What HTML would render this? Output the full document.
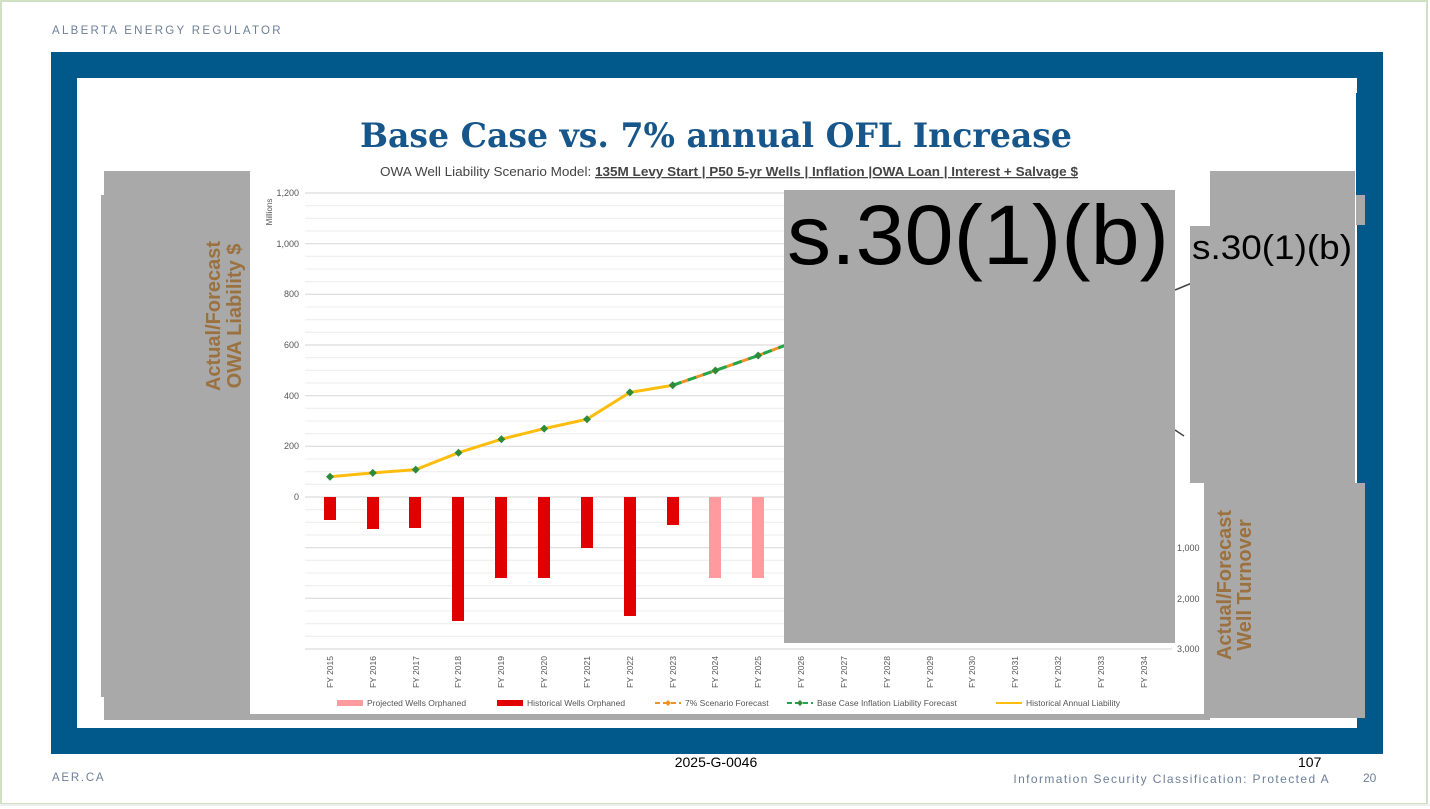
<!DOCTYPE html>
<html><head><meta charset="utf-8"><style>
html,body{margin:0;padding:0;background:#fff;}
svg{display:block;}
</style></head><body>
<svg width="1430" height="809" viewBox="0 0 1430 809" xmlns="http://www.w3.org/2000/svg" font-family="Liberation Sans, sans-serif">
<rect x="0" y="0" width="1430" height="809" fill="#fff"/>
<rect x="1" y="1" width="1426" height="803" fill="none" stroke="#cfe0c4" stroke-width="2"/>
<text x="52" y="34" font-size="11.5" fill="#6d7f98" letter-spacing="2.4" textLength="231">ALBERTA ENERGY REGULATOR</text>
<!-- blue frame -->
<rect x="51" y="52" width="1332" height="702" fill="#01588b"/>
<rect x="77" y="78" width="1280" height="650" fill="#fff"/>
<!-- left gray boxes -->
<rect x="104" y="171" width="146" height="549" fill="#a9a9a9"/>
<rect x="101" y="195" width="10" height="502" fill="#a9a9a9"/>
<text transform="translate(220,316) rotate(-90)" text-anchor="middle" font-size="20" font-weight="bold" fill="#9b713f">Actual/Forecast</text>
<text transform="translate(241,316) rotate(-90)" text-anchor="middle" font-size="20" font-weight="bold" fill="#9b713f">OWA Liability $</text>
<rect x="250" y="714" width="960" height="6" fill="#a9a9a9"/>
<!-- title -->
<text x="360" y="147" font-family="DejaVu Serif, Liberation Serif, serif" font-size="34" font-weight="bold" fill="#17568a" textLength="712" lengthAdjust="spacingAndGlyphs">Base Case vs. 7% annual OFL Increase</text>
<text x="380" y="176" font-size="12.5" fill="#444" textLength="698" lengthAdjust="spacingAndGlyphs">OWA Well Liability Scenario Model: <tspan font-weight="bold" text-decoration="underline">135M Levy Start | P50 5-yr Wells | Inflation |OWA Loan | Interest + Salvage $</tspan></text>
<!-- gridlines -->
<g stroke="#ececec" stroke-width="1">
<line x1="305" x2="1172" y1="205.7" y2="205.7"/><line x1="305" x2="1172" y1="218.3" y2="218.3"/><line x1="305" x2="1172" y1="231" y2="231"/>
<line x1="305" x2="1172" y1="256.3" y2="256.3"/><line x1="305" x2="1172" y1="269" y2="269"/><line x1="305" x2="1172" y1="281.7" y2="281.7"/>
<line x1="305" x2="1172" y1="307" y2="307"/><line x1="305" x2="1172" y1="319.7" y2="319.7"/><line x1="305" x2="1172" y1="332.3" y2="332.3"/>
<line x1="305" x2="1172" y1="357.7" y2="357.7"/><line x1="305" x2="1172" y1="370.3" y2="370.3"/><line x1="305" x2="1172" y1="383" y2="383"/>
<line x1="305" x2="1172" y1="408.3" y2="408.3"/><line x1="305" x2="1172" y1="421" y2="421"/><line x1="305" x2="1172" y1="433.7" y2="433.7"/>
<line x1="305" x2="1172" y1="459" y2="459"/><line x1="305" x2="1172" y1="471.7" y2="471.7"/><line x1="305" x2="1172" y1="484.3" y2="484.3"/>
<line x1="305" x2="1172" y1="509.7" y2="509.7"/><line x1="305" x2="1172" y1="522.3" y2="522.3"/><line x1="305" x2="1172" y1="535" y2="535"/>
<line x1="305" x2="1172" y1="560.3" y2="560.3"/><line x1="305" x2="1172" y1="573" y2="573"/><line x1="305" x2="1172" y1="585.7" y2="585.7"/>
<line x1="305" x2="1172" y1="611" y2="611"/><line x1="305" x2="1172" y1="623.7" y2="623.7"/><line x1="305" x2="1172" y1="636.3" y2="636.3"/>
</g>
<g stroke="#dcdcdc" stroke-width="1.2">
<line x1="305" x2="1172" y1="193" y2="193"/><line x1="305" x2="1172" y1="243.7" y2="243.7"/><line x1="305" x2="1172" y1="294.3" y2="294.3"/>
<line x1="305" x2="1172" y1="345" y2="345"/><line x1="305" x2="1172" y1="395.7" y2="395.7"/><line x1="305" x2="1172" y1="446.3" y2="446.3"/>
<line x1="305" x2="1172" y1="497" y2="497"/><line x1="305" x2="1172" y1="547.7" y2="547.7"/><line x1="305" x2="1172" y1="598.3" y2="598.3"/><line x1="305" x2="1172" y1="649" y2="649"/>
</g>
<g font-size="9" fill="#555" text-anchor="end">
<text x="299" y="196">1,200</text><text x="299" y="247">1,000</text><text x="299" y="297">800</text><text x="299" y="348">600</text><text x="299" y="399">400</text><text x="299" y="449">200</text><text x="299" y="500">0</text>
</g>
<text transform="translate(272,212) rotate(-90)" font-size="8" fill="#555" text-anchor="middle">Millions</text>
<g font-size="9" fill="#555"><text x="1177" y="551">1,000</text><text x="1177" y="602">2,000</text><text x="1177" y="652">3,000</text></g>
<!-- bars -->
<g fill="#e00000">
<rect x="324" y="497" width="12" height="23"/><rect x="367" y="497" width="12" height="32"/><rect x="409" y="497" width="12" height="31"/>
<rect x="452" y="497" width="12" height="124"/><rect x="495" y="497" width="12" height="81"/><rect x="538" y="497" width="12" height="81"/>
<rect x="581" y="497" width="12" height="51"/><rect x="624" y="497" width="12" height="119"/><rect x="667" y="497" width="12" height="28"/>
</g>
<g fill="#ff9a9e"><rect x="709" y="497" width="12" height="81"/><rect x="752" y="497" width="12" height="81"/></g>
<!-- lines -->
<polyline points="330,476.7 372.8,472.9 415.7,469.6 458.5,452.7 501.4,439.2 544.2,428.6 587,419.2 629.9,392.4 672.7,385.3" fill="none" stroke="#fcbd0f" stroke-width="3"/>
<polyline points="672.7,385.3 715.4,370.5 758.2,355.5 786,345" fill="none" stroke="#f39123" stroke-width="3"/>
<polyline points="672.7,385.3 715.4,370.5 758.2,355.5 786,345" fill="none" stroke="#21a64b" stroke-width="3" stroke-dasharray="9 7"/>
<g fill="#2c8a3a">
<path d="M330,472.7 l4,4 -4,4 -4,-4z"/><path d="M372.8,468.9 l4,4 -4,4 -4,-4z"/><path d="M415.7,465.6 l4,4 -4,4 -4,-4z"/>
<path d="M458.5,448.7 l4,4 -4,4 -4,-4z"/><path d="M501.4,435.2 l4,4 -4,4 -4,-4z"/><path d="M544.2,424.6 l4,4 -4,4 -4,-4z"/>
<path d="M587,415.2 l4,4 -4,4 -4,-4z"/><path d="M629.9,388.4 l4,4 -4,4 -4,-4z"/><path d="M672.7,381.3 l4,4 -4,4 -4,-4z"/>
<path d="M715.4,366.5 l4,4 -4,4 -4,-4z"/><path d="M758.2,351.5 l4,4 -4,4 -4,-4z"/>
</g>
<g font-size="8.5" fill="#555">
<text transform="translate(333,688) rotate(-90)">FY 2015</text><text transform="translate(376,688) rotate(-90)">FY 2016</text><text transform="translate(419,688) rotate(-90)">FY 2017</text>
<text transform="translate(461,688) rotate(-90)">FY 2018</text><text transform="translate(504,688) rotate(-90)">FY 2019</text><text transform="translate(547,688) rotate(-90)">FY 2020</text>
<text transform="translate(590,688) rotate(-90)">FY 2021</text><text transform="translate(633,688) rotate(-90)">FY 2022</text><text transform="translate(676,688) rotate(-90)">FY 2023</text>
<text transform="translate(718,688) rotate(-90)">FY 2024</text><text transform="translate(761,688) rotate(-90)">FY 2025</text><text transform="translate(804,688) rotate(-90)">FY 2026</text>
<text transform="translate(847,688) rotate(-90)">FY 2027</text><text transform="translate(890,688) rotate(-90)">FY 2028</text><text transform="translate(933,688) rotate(-90)">FY 2029</text>
<text transform="translate(975,688) rotate(-90)">FY 2030</text><text transform="translate(1018,688) rotate(-90)">FY 2031</text><text transform="translate(1061,688) rotate(-90)">FY 2032</text>
<text transform="translate(1104,688) rotate(-90)">FY 2033</text><text transform="translate(1147,688) rotate(-90)">FY 2034</text>
</g>
<g font-size="8.5" fill="#555">
<rect x="337" y="700" width="26" height="6" fill="#ff9a9e"/><text x="367" y="706">Projected Wells Orphaned</text>
<rect x="497" y="700" width="26" height="6" fill="#e00000"/><text x="527" y="706">Historical Wells Orphaned</text>
<line x1="655" y1="703" x2="681" y2="703" stroke="#f39123" stroke-width="2" stroke-dasharray="5 3"/><path d="M668,700 l3,3 -3,3 -3,-3z" fill="#f39123"/><text x="685" y="706">7% Scenario Forecast</text>
<line x1="787" y1="703" x2="813" y2="703" stroke="#21a64b" stroke-width="2" stroke-dasharray="5 3"/><path d="M800,700 l3,3 -3,3 -3,-3z" fill="#2c8a3a"/><text x="817" y="706">Base Case Inflation Liability Forecast</text>
<line x1="996" y1="703" x2="1022" y2="703" stroke="#fcbd0f" stroke-width="2"/><text x="1026" y="706">Historical Annual Liability</text>
</g>
<!-- redactions -->
<line x1="1175" y1="290" x2="1192" y2="283" stroke="#444" stroke-width="1.5"/>
<line x1="1175" y1="430" x2="1184" y2="436" stroke="#444" stroke-width="1.5"/>
<rect x="784" y="190" width="391" height="453" fill="#a9a9a9"/>
<text x="787" y="264" font-size="84" fill="#000" textLength="382" lengthAdjust="spacingAndGlyphs">s.30(1)(b)</text>
<rect x="1210" y="171" width="145" height="60" fill="#a9a9a9"/>
<rect x="1190" y="226" width="165" height="257" fill="#a9a9a9"/>
<text x="1192" y="259" font-size="34" fill="#000" textLength="160" lengthAdjust="spacingAndGlyphs">s.30(1)(b)</text>
<rect x="1356" y="195" width="9" height="30" fill="#a9a9a9"/>
<rect x="1204" y="483" width="161" height="235" fill="#a9a9a9"/>
<rect x="1356" y="93" width="9" height="102" fill="#01588b"/>
<text transform="translate(1231,585) rotate(-90)" text-anchor="middle" font-size="20" font-weight="bold" fill="#9b713f">Actual/Forecast</text>
<text transform="translate(1251,585) rotate(-90)" text-anchor="middle" font-size="20" font-weight="bold" fill="#9b713f">Well Turnover</text>
<!-- footer -->
<text x="52" y="781" font-size="11.5" fill="#6d7f98" letter-spacing="2.4" textLength="54">AER.CA</text>
<text x="716" y="767" text-anchor="middle" font-size="14" fill="#000">2025-G-0046</text>
<text x="1298" y="767" font-size="14" fill="#000">107</text>
<text x="1330" y="783" text-anchor="end" font-size="12" fill="#6d7f98" letter-spacing="1.4">Information Security Classification: Protected A</text>
<text x="1363" y="782" font-size="12" fill="#6d7f98">20</text>
<line x1="0" y1="805" x2="1430" y2="805" stroke="#eee" stroke-width="2"/>
</svg>
</body></html>
